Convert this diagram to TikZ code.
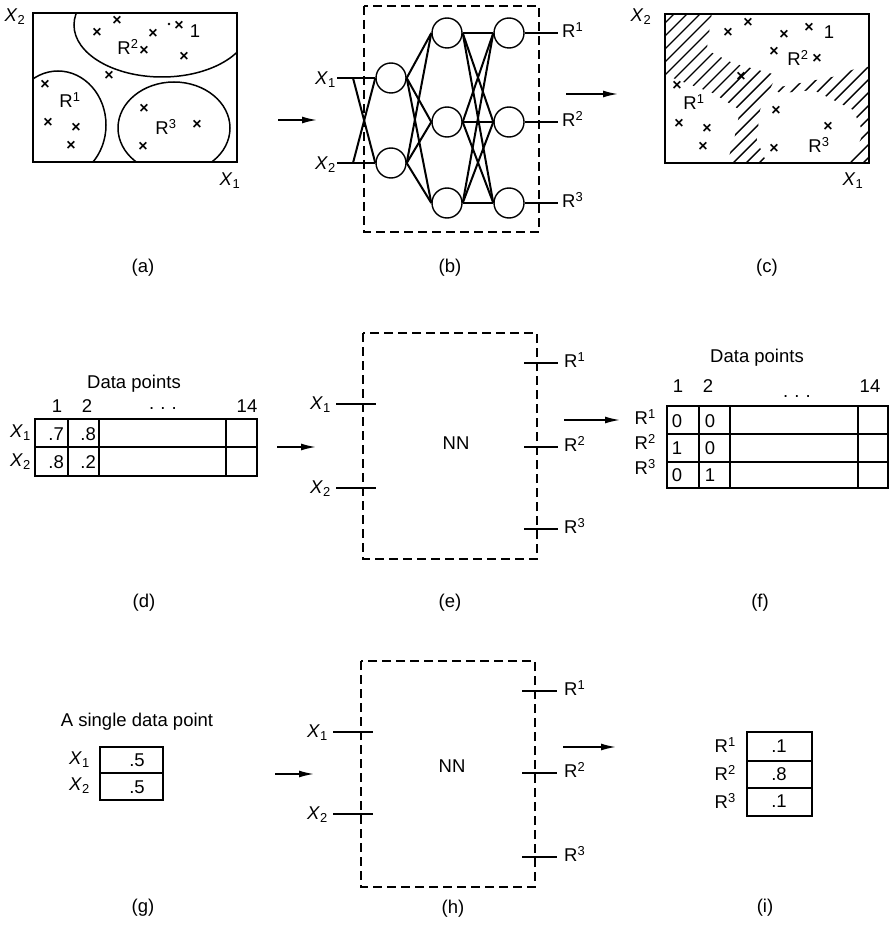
\documentclass[tikz,border=0pt]{standalone}
\usepackage{fontspec}
\setmainfont{Liberation Sans}
\usetikzlibrary{arrows.meta}
\newcommand\Xv[1]{\textit{X}\textsubscript{#1}}
\newcommand\Rv[1]{R\textsuperscript{#1}}
\tikzset{
  every node/.style={font=\fontsize{18.5}{22}\selectfont},
  framebox/.style={draw, line width=2pt},
  region/.style={draw, line width=1.5pt},
  nnbox/.style={draw, line width=1.6pt, dash pattern=on 9pt off 5pt},
  neuron/.style={circle, draw, line width=1.4pt, minimum size=30pt, inner sep=0pt},
  link/.style={line width=2pt},
  tick/.style={line width=1.6pt},
  hatchline/.style={line width=1.4pt},
  xmk/.style={font=\fontsize{16}{16}\selectfont\bfseries, inner sep=0pt},
  arr/.style={-{Latex[length=15pt,width=7pt]}, line width=1.6pt},
  lab/.style={inner sep=0pt},
  grid/.style={line width=1.6pt}
}
\begin{document}
\begin{tikzpicture}[x=1pt,y=-1pt]
\useasboundingbox (0,0) rectangle (893,928);

% ================= (a) =================
\begin{scope}
\clip (33,13) rectangle (237,162);
\draw[region] (162,25) ellipse [x radius=88, y radius=52];
\draw[region] (58,125) ellipse [x radius=48, y radius=54];
\draw[region] (174,128) ellipse [x radius=56, y radius=46];
\end{scope}
\draw[framebox] (33,13) rectangle (237,162);
\foreach \x/\y [count=\i] in {97/33,117/21,153/34,144/51,179/26,184/57,109/76,45/85,48/123,76/128,71/146,144/109,197/125,143/147}
  \node[xmk] (ax\i) at (\x,\y) {×};
\fill (169,24) circle [radius=1.4];
\node[lab] (aR2) at (128,47) {\Rv{2}};
\node[lab] (a1) at (195,31) {1};
\node[lab] (aR1) at (70,100) {\Rv{1}};
\node[lab] (aR3) at (166,127) {\Rv{3}};
\node[lab] (aX2) at (15,17) {\Xv{2}};
\node[lab] (aX1) at (230,181) {\Xv{1}};
\node (capa) at (143,268) {(a)};

\coordinate (ab1) at (278,120);
\coordinate (ab2) at (317,120);
\draw[arr] (ab1) -- (ab2);

% ================= (b) =================
\draw[nnbox] (364,6) rectangle (539,232);
\node[neuron] (i1) at (391,78) {};
\node[neuron] (i2) at (391,163) {};
\node[neuron] (h1) at (447,33) {};
\node[neuron] (h2) at (447,122) {};
\node[neuron] (h3) at (447,203) {};
\node[neuron] (o1) at (509,33) {};
\node[neuron] (o2) at (509,122) {};
\node[neuron] (o3) at (509,203) {};
\coordinate (bx1) at (337,78);
\coordinate (bx2) at (337,163);
\coordinate (bs1) at (353,78);
\coordinate (bs2) at (353,163);
\draw[link] (bx1) -- (i1.west);
\draw[link] (bx2) -- (i2.west);
\draw[link] (bs1) -- (i2.west);
\draw[link] (bs2) -- (i1.west);
\foreach \a in {i1,i2} \foreach \b in {h1,h2,h3} \draw[link] (\a.east) -- (\b.west);
\foreach \a in {h1,h2,h3} \foreach \b in {o1,o2,o3} \draw[link] (\a.east) -- (\b.west);
\node[lab, anchor=east] (bX1) at (336,80) {\Xv{1}};
\node[lab, anchor=east] (bX2) at (336,165) {\Xv{2}};
\foreach \i/\y in {1/33,2/122,3/203} {
  \coordinate (bo\i) at (558,\y);
  \draw[link] (o\i.east) -- (bo\i);
  \node[lab, anchor=west] (bR\i) at (562,\y-3) {\Rv{\i}};
}
\node (capb) at (450,268) {(b)};

\coordinate (bc1) at (566,94);
\coordinate (bc2) at (618,94);
\draw[arr] (bc1) -- (bc2);

% ================= (c) =================
\begin{scope}
\clip (665,14) -- (711.7,14) -- (706.7,50) -- (733.3,63.3) -- (776.7,75) -- (760,110) -- (756.7,140) -- (766.7,163) -- (726.7,163) -- (733.3,143.3) -- (740,110) -- (713.3,93.3) -- (686.7,83.3) -- (665,75) -- cycle
 (773.3,88.3) -- (833.3,76.7) -- (856.7,68.3) -- (869,66.7) -- (869,163) -- (850,163) -- (863.3,133.3) -- (853.3,110) -- (833.3,100) -- (813.3,90) -- (780,93.3) -- cycle;
\foreach \k in {0,...,28} \draw[hatchline] (500+\k*13,175) -- ++(200,-200);
\end{scope}
\draw[framebox] (665,14) rectangle (869,163);
\foreach \x/\y [count=\i] in {748/23,728/33,784/35,809/28,774/52,817/59,741/77,677/86,679/124,707/129,703/147,776/111,828/127,774/149}
  \node[xmk] (cx\i) at (\x,\y) {×};
\node[lab] (c1) at (829,32) {1};
\node[lab] (cR2) at (798,58) {\Rv{2}};
\node[lab] (cR1) at (694,102) {\Rv{1}};
\node[lab] (cR3) at (819,145) {\Rv{3}};
\node[lab] (cX2) at (641,17) {\Xv{2}};
\node[lab] (cX1) at (853,181) {\Xv{1}};
\node (capc) at (767,268) {(c)};

% ================= (d) =================
\node (dtitle) at (134,384) {Data points};
\draw[grid] (35,419) rectangle (257,476);
\draw[grid] (35,447) -- (257,447);
\foreach \x in {68,99,226} \draw[grid] (\x,419) -- (\x,476);
\node (dh1) at (57,406) {1};
\node (dh2) at (87,406) {2};
\node[lab] (dhd) at (163,409) {.\,\,.\,\,.};
\node (dh14) at (247,406) {14};
\node[lab, anchor=east] (dX1) at (31,433) {\Xv{1}};
\node[lab, anchor=east] (dX2) at (31,462) {\Xv{2}};
\node[lab, anchor=east] (d11) at (64,434) {.7};
\node[lab, anchor=east] (d12) at (96,434) {.8};
\node[lab, anchor=east] (d21) at (64,462) {.8};
\node[lab, anchor=east] (d22) at (96,462) {.2};
\node (capd) at (144,603) {(d)};

\coordinate (de1) at (277,447);
\coordinate (de2) at (316,447);
\draw[arr] (de1) -- (de2);

% ================= (e) =================
\draw[nnbox] (363,333) rectangle (537,559);
\node (eNN) at (456,443) {NN};
\foreach \i/\y in {1/404,2/488} {
  \coordinate (ein\i a) at (336,\y);
  \coordinate (ein\i b) at (376,\y);
  \draw[tick] (ein\i a) -- (ein\i b);
  \node[lab, anchor=east] (eX\i) at (331,\y+1) {\Xv{\i}};
}
\foreach \i/\y in {1/363,2/447,3/529} {
  \coordinate (eout\i a) at (524,\y);
  \coordinate (eout\i b) at (558,\y);
  \draw[tick] (eout\i a) -- (eout\i b);
  \node[lab, anchor=west] (eR\i) at (564,\y-3) {\Rv{\i}};
}
\node (cape) at (450,603) {(e)};

\coordinate (ef1) at (564,420);
\coordinate (ef2) at (620,420);
\draw[arr] (ef1) -- (ef2);

% ================= (f) =================
\node (ftitle) at (757,358) {Data points};
\draw[grid] (667,406) rectangle (888,488);
\foreach \y in {434,462} \draw[grid] (667,\y) -- (888,\y);
\foreach \x in {699,730,858} \draw[grid] (\x,406) -- (\x,488);
\node (fh1) at (678,386) {1};
\node (fh2) at (708,386) {2};
\node[lab] (fhd) at (797,397) {.\,\,.\,\,.};
\node (fh14) at (870,386) {14};
\foreach \i/\y in {1/417,2/442,3/467}
  \node[lab, anchor=east] (fR\i) at (656,\y) {\Rv{\i}};
\node[lab] (f11) at (677,421) {0};
\node[lab] (f12) at (710,421) {0};
\node[lab] (f21) at (677,448) {1};
\node[lab] (f22) at (710,448) {0};
\node[lab] (f31) at (677,475) {0};
\node[lab] (f32) at (710,475) {1};
\node (capf) at (760,603) {(f)};

% ================= (g) =================
\node (gtitle) at (137,722) {A single data point};
\draw[grid] (100,747) rectangle (163,800);
\draw[grid] (100,773) -- (163,773);
\node[lab] (g1) at (137,760) {.5};
\node[lab] (g2) at (137,787) {.5};
\node[lab, anchor=east] (gX1) at (90,760) {\Xv{1}};
\node[lab, anchor=east] (gX2) at (90,786) {\Xv{2}};
\node (capg) at (143,908) {(g)};

\coordinate (gh1) at (275,774);
\coordinate (gh2) at (314,774);
\draw[arr] (gh1) -- (gh2);

% ================= (h) =================
\draw[nnbox] (361,661) rectangle (535,887);
\node (hNN) at (452,766) {NN};
\foreach \i/\y in {1/732,2/814} {
  \coordinate (hin\i a) at (333,\y);
  \coordinate (hin\i b) at (373,\y);
  \draw[tick] (hin\i a) -- (hin\i b);
  \node[lab, anchor=east] (hX\i) at (328,\y+1) {\Xv{\i}};
}
\foreach \i/\y in {1/691,2/773,3/857} {
  \coordinate (hout\i a) at (522,\y);
  \coordinate (hout\i b) at (557,\y);
  \draw[tick] (hout\i a) -- (hout\i b);
  \node[lab, anchor=west] (hR\i) at (564,\y-3) {\Rv{\i}};
}
\node (caph) at (453,909) {(h)};

\coordinate (hi1) at (563,747);
\coordinate (hi2) at (616,747);
\draw[arr] (hi1) -- (hi2);

% ================= (i) =================
\draw[grid] (747,732) rectangle (812,816);
\foreach \y in {761,788} \draw[grid] (747,\y) -- (812,\y);
\node[lab] (i1v) at (779,746) {.1};
\node[lab] (i2v) at (779,774) {.8};
\node[lab] (i3v) at (779,801) {.1};
\foreach \i/\y in {1/745,2/773,3/801}
  \node[lab, anchor=east] (iR\i) at (736,\y) {\Rv{\i}};
\node (capi) at (765,908) {(i)};
\end{tikzpicture}
\end{document}
